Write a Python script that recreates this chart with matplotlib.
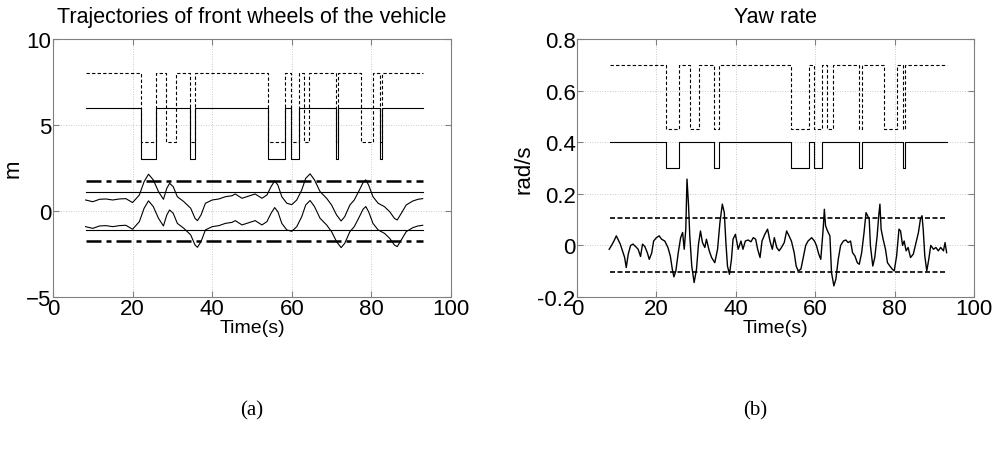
import numpy as np
import matplotlib
matplotlib.use('Agg')
import matplotlib.pyplot as plt

plt.rcParams['font.family'] = ['Liberation Sans', 'DejaVu Sans']

# lane change command signals (switch times, s)
t_dash = [8.2, 22.2, 25.8, 28.5, 30.9, 34.5, 35.8, 54.1, 58.3, 59.7, 61.7,
          63.1, 64.4, 71.0, 71.7, 77.3, 80.5, 82.2, 82.6, 93.0]
t_solid = [8.2, 22.2, 25.8, 34.5, 35.8, 54.1, 58.3, 59.7, 61.7, 71.0, 71.6,
           82.2, 82.6, 93.0]
t_dash_b = [8.2, 22.3, 25.7, 28.4, 30.8, 34.5, 35.7, 54.0, 58.5, 59.7, 61.7,
            62.9, 64.4, 71.1, 71.9, 77.4, 80.5, 82.2, 82.6, 93.3]
t_solid_b = [8.2, 22.3, 25.7, 34.5, 35.7, 54.0, 58.5, 59.7, 61.7, 71.1, 71.7,
             82.2, 82.6, 93.3]

dash_a = [8, 4, 8, 4, 8, 4, 8, 4, 8, 4, 8, 4, 8, 4, 8, 4, 8, 4, 8, 8]
solid_a = [6, 3, 6, 3, 6, 3, 6, 3, 6, 3, 6, 3, 6, 6]
dash_b = [0.7, 0.45, 0.7, 0.45, 0.7, 0.45, 0.7, 0.45, 0.7, 0.45, 0.7,
          0.45, 0.7, 0.45, 0.7, 0.45, 0.7, 0.45, 0.7, 0.7]
solid_b = [0.4, 0.3, 0.4, 0.3, 0.4, 0.3, 0.4, 0.3, 0.4, 0.3, 0.4, 0.3, 0.4, 0.4]

# front wheel lateral positions (m)
t_wheel = [8.2, 10, 11.7, 13.3, 15, 16.7, 18.3, 20, 21.7, 22.9, 24, 25.2, 26.5,
           27.75, 28.6, 29.3, 30.2, 31.25, 32.9, 34.6, 35.7, 36.3, 37.2, 38.3,
           40, 41.7, 43.3, 45, 45.8, 47.5, 49.2, 50.8, 52.5, 53.75, 54.8, 55.7,
           56.5, 57.5, 58.75, 60, 61.25, 62.5, 63.5, 64.6, 65.7, 67.1, 68.75,
           70, 71.25, 72.4, 73.3, 74.6, 75.7, 76.8, 77.9, 78.6, 79.3, 80.4,
           81.7, 83.3, 84.6, 85.8, 86.5, 87.5, 88.75, 90.4, 91.7, 92.9]
wheel_left = [0.64, 0.54, 0.68, 0.70, 0.64, 0.70, 0.72, 0.49, 0.93, 1.71, 2.14,
              1.81, 1.13, 0.68, 1.32, 1.61, 1.42, 0.83, 0.54, 0.16, -0.43,
              -0.56, -0.23, 0.45, 0.64, 0.70, 0.83, 0.89, 0.99, 0.74, 0.87,
              0.99, 0.74, 0.93, 1.42, 1.75, 1.51, 0.83, 0.45, 0.37, 0.64, 1.22,
              1.90, 2.16, 1.81, 1.13, 0.74, 0.35, -0.23, -0.58, -0.33, 0.35,
              0.64, 1.13, 1.65, 1.81, 1.51, 0.83, 0.45, 0.25, -0.04, -0.43,
              -0.52, -0.14, 0.35, 0.58, 0.68, 0.72]
wheel_right = [-0.91, -1.01, -0.87, -0.85, -0.91, -0.85, -0.83, -1.06, -0.62,
               0.16, 0.59, 0.26, -0.42, -0.87, -0.23, 0.06, -0.13, -0.72,
               -1.01, -1.39, -1.98, -2.11, -1.78, -1.10, -0.91, -0.85, -0.72,
               -0.66, -0.56, -0.81, -0.68, -0.56, -0.81, -0.62, -0.13, 0.20,
               -0.04, -0.72, -1.10, -1.18, -0.91, -0.33, 0.35, 0.61, 0.26,
               -0.42, -0.81, -1.20, -1.78, -2.13, -1.88, -1.20, -0.91, -0.42,
               0.10, 0.26, -0.04, -0.72, -1.10, -1.30, -1.59, -1.98, -2.07,
               -1.69, -1.20, -0.97, -0.87, -0.83]
road_edge = 1.76
lane_line = 1.1

# yaw rate (rad/s)
t_yaw = [8.1, 8.7, 9.3, 9.9, 10.3, 10.9, 11.6, 12.0, 12.4, 12.9, 13.5, 14.1,
         14.8, 15.4, 16.0, 16.5, 17.1, 17.7, 18.2, 18.8, 19.3, 20.0, 20.7,
         21.3, 22.1, 22.9, 23.5, 24.0, 24.4, 24.9, 25.5, 26.1, 26.6, 27.0,
         27.4, 27.7, 28.1, 28.4, 28.9, 29.5, 30.1, 30.6, 31.1, 31.6, 32.2,
         32.6, 33.3, 33.9, 34.7, 35.4, 36.0, 36.6, 37.1, 37.5, 37.9, 38.4,
         38.9, 39.3, 39.9, 40.6, 41.3, 41.8, 42.4, 43.1, 43.8, 44.4, 45.0,
         45.5, 46.1, 46.6, 47.3, 48.0, 48.6, 49.2, 49.7, 50.3, 50.9, 51.5,
         52.2, 52.8, 53.4, 54.0, 54.7, 55.2, 55.7, 56.4, 57.0, 57.6, 58.2,
         59.1, 59.8, 60.3, 60.9, 61.4, 62.0, 62.3, 62.6, 63.1, 63.7, 64.1,
         64.7, 65.2, 65.8, 66.4, 67.1, 67.7, 68.3, 68.9, 69.4, 70.0, 70.6,
         71.1, 71.7, 72.3, 72.8, 73.2, 73.6, 73.9, 74.5, 75.0, 75.6, 76.0,
         76.3, 76.6, 77.1, 77.7, 78.2, 78.8, 79.4, 79.9, 80.5, 81.1, 81.5,
         82.0, 82.4, 82.9, 83.4, 84.0, 84.7, 85.4, 86.0, 86.5, 86.9, 87.2,
         87.6, 88.1, 88.6, 89.1, 89.8, 90.4, 91.0, 91.6, 92.3, 92.7, 93.1]
yaw = [-0.015, 0.0, 0.017, 0.037, 0.024, 0.005, -0.028, -0.047, -0.086, -0.034,
       0.0, 0.005, -0.005, -0.015, -0.043, 0.005, -0.005, -0.028, -0.054,
       -0.030, 0.017, 0.030, 0.037, 0.024, 0.017, -0.008, -0.041, -0.092,
       -0.122, -0.099, -0.028, 0.030, 0.050, -0.015, 0.063, 0.257, 0.153,
       0.037, -0.080, -0.144, -0.092, 0.005, 0.056, 0.011, -0.008, 0.024,
       -0.021, -0.047, -0.067, -0.015, 0.089, 0.160, 0.127, 0.011, -0.080,
       -0.112, -0.054, 0.024, 0.043, -0.015, 0.017, -0.015, 0.017, 0.021,
       0.014, 0.030, 0.024, -0.015, -0.047, 0.017, 0.043, 0.063, 0.017,
       -0.015, 0.030, -0.008, -0.021, -0.008, 0.011, 0.056, 0.037, 0.017,
       -0.028, -0.080, -0.099, -0.092, -0.047, 0.0, 0.017, 0.030, 0.017, 0.0,
       -0.034, -0.054, 0.063, 0.140, 0.076, 0.056, 0.037, -0.105, -0.157,
       -0.131, -0.054, 0.0, 0.017, 0.021, 0.011, 0.017, -0.028, -0.041,
       -0.067, -0.073, -0.028, 0.050, 0.127, 0.115, 0.102, 0.0, -0.080,
       -0.047, 0.037, 0.115, 0.160, 0.063, 0.024, -0.015, -0.067, -0.080,
       -0.092, -0.099, -0.041, 0.063, 0.056, 0.0, 0.017, -0.021, -0.008,
       -0.047, -0.034, 0.011, 0.050, 0.102, 0.115, 0.063, -0.041, -0.099,
       -0.054, 0.0, -0.015, -0.008, -0.021, -0.008, -0.021, 0.011, -0.028]
yaw_limit = 0.105

fig = plt.figure(figsize=(9.94, 4.52), dpi=100)
ax1 = fig.add_axes([0.0533, 0.3407, 0.4004, 0.5708])
ax2 = fig.add_axes([0.5805, 0.3407, 0.3994, 0.5708])


def matlab_style(ax):
    ax.grid(True, linestyle=(0, (1, 2)), color='#b8b8b8', linewidth=0.6)
    ax.tick_params(direction='in', labelsize=16, pad=1, length=4,
                   color='#808080', top=True, right=True)
    for s in ax.spines.values():
        s.set_color('#808080')
        s.set_linewidth(0.8)
    ax.set_xlim(0, 100)
    ax.set_xticks([0, 20, 40, 60, 80, 100])
    ax.set_xlabel('Time(s)', fontsize=14)
    ax.xaxis.set_label_coords(0.5, -0.085)


# (a)
ax1.step(t_dash, dash_a, where='post', color='k', linestyle=(0, (3, 2)), linewidth=0.8)
ax1.step(t_solid, solid_a, where='post', color='k', linewidth=0.8)
ax1.plot(t_wheel, wheel_left, color='k', linewidth=0.8)
ax1.plot(t_wheel, wheel_right, color='k', linewidth=0.8)
for y in [road_edge, -road_edge]:
    ax1.plot([8.2, 93.0], [y, y], color='k', linestyle=(0, (6, 2, 2, 2)), linewidth=1.8)
for y in [lane_line, -lane_line]:
    ax1.plot([8.2, 93.0], [y, y], color='k', linewidth=0.8)
ax1.set_ylim(-5, 10)
ax1.set_yticks([-5, 0, 5, 10])
ax1.set_ylabel('m', fontsize=16, labelpad=2)
ax1.set_title('Trajectories of front wheels of the vehicle', fontsize=15.5, pad=12)
matlab_style(ax1)

# (b)
ax2.step(t_dash_b, dash_b, where='post', color='k', linestyle=(0, (3, 2)), linewidth=0.8)
ax2.step(t_solid_b, solid_b, where='post', color='k', linewidth=0.8)
ax2.plot(t_yaw, yaw, color='k', linewidth=1.0)
for y in [yaw_limit, -yaw_limit]:
    ax2.plot([8.2, 93.3], [y, y], color='k', linestyle=(0, (3, 1.5)), linewidth=1.2)
ax2.set_ylim(-0.2, 0.8)
ax2.set_yticks([-0.2, 0, 0.2, 0.4, 0.6, 0.8])
ax2.set_yticklabels(['-0.2', '0', '0.2', '0.4', '0.6', '0.8'])
ax2.set_ylabel('rad/s', fontsize=16, labelpad=2)
ax2.set_title('Yaw rate', fontsize=15.5, pad=12)
matlab_style(ax2)

fig.text(0.2535, 0.09, '(a)', fontsize=15, ha='center', va='center', family='Liberation Serif')
fig.text(0.760, 0.09, '(b)', fontsize=15, ha='center', va='center', family='Liberation Serif')

fig.savefig('out.png', dpi=100)
